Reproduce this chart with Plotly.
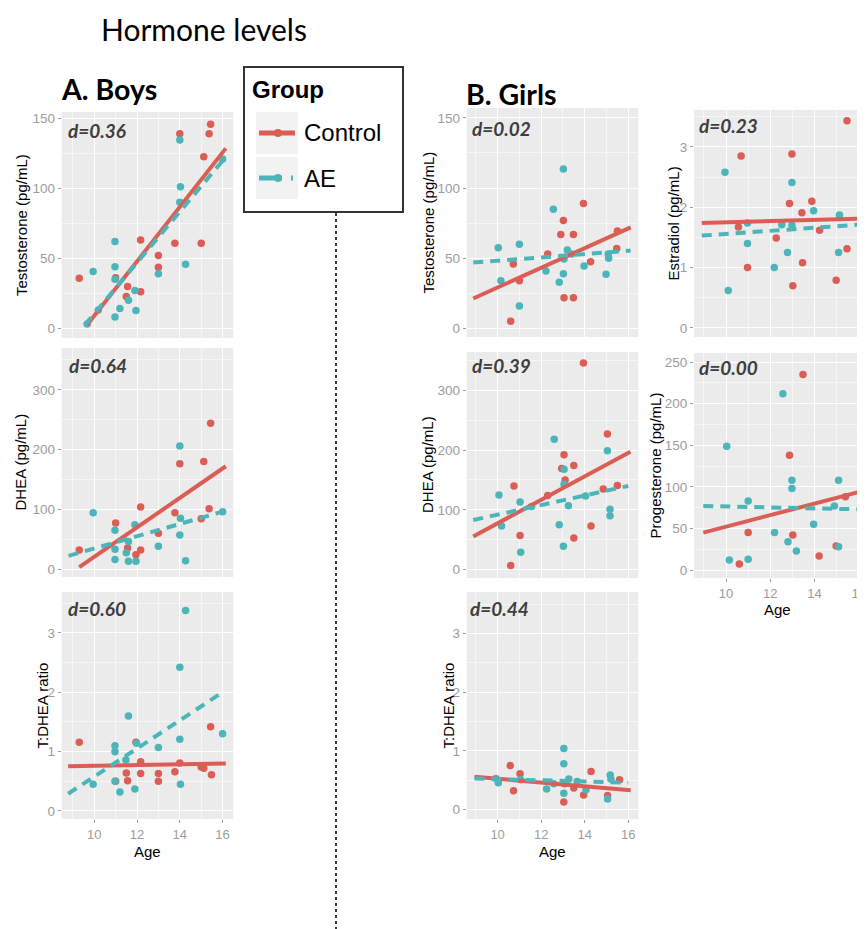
import plotly.graph_objects as go

# ---------------- DATA ----------------
# Boys - Testosterone (pg/mL)
boys_T_ctrl_age = [9.3, 11.0, 11.5, 11.56, 12.17, 12.17, 13.0, 13.0, 13.77, 14.0, 15.0, 15.12, 15.37, 15.44]
boys_T_ctrl_val = [35.7, 36, 22.6, 29.8, 63, 26, 52, 43.6, 60.7, 139, 60.7, 122.6, 139, 145.7]
boys_T_ae_age = [9.67, 9.95, 10.19, 10.97, 10.97, 10.97, 10.97, 11.2, 11.6, 11.9, 11.95, 13.0, 14.0, 14.0, 14.03, 14.27, 16.0]
boys_T_ae_val = [3, 40.5, 13, 62, 44, 35, 8, 14, 20, 27, 12.6, 39, 134.5, 90, 101, 45.7, 121]
boys_T_ctrl_fit_age = [9.67, 16.15]
boys_T_ctrl_fit_val = [2.4, 128.5]
boys_T_ae_fit_age = [9.56, 16.1]
boys_T_ae_fit_val = [2.4, 121.5]

# Boys - DHEA (pg/mL)
boys_D_ctrl_age = [9.3, 11.0, 11.56, 11.95, 12.17, 12.17, 13.0, 13.77, 14.0, 15.0, 15.12, 15.37, 15.44]
boys_D_ctrl_val = [32, 77, 35, 24, 104, 32, 60, 94, 176, 84, 180, 101, 244]
boys_D_ae_age = [9.95, 10.97, 10.97, 10.97, 11.5, 11.6, 11.6, 11.9, 11.95, 13.0, 14.0, 14.0, 14.03, 14.27, 16.0]
boys_D_ae_val = [94, 65, 33, 16, 27, 46, 13, 74, 13, 38, 206, 57, 85, 14, 96]
boys_D_ctrl_fit_age = [9.3, 16.15]
boys_D_ctrl_fit_val = [3, 172]
boys_D_ae_fit_age = [8.8, 16.0]
boys_D_ae_fit_val = [22, 96]

# Boys - T:DHEA ratio
boys_R_ctrl_age = [9.3, 11.0, 11.5, 11.56, 11.95, 12.17, 12.17, 13.0, 13.0, 13.77, 14.0, 15.0, 15.12, 15.44, 15.48]
boys_R_ctrl_val = [1.16, 0.50, 0.64, 0.51, 1.16, 0.83, 0.63, 0.63, 0.50, 0.66, 0.81, 0.74, 0.72, 1.42, 0.61]
boys_R_ae_age = [9.95, 10.97, 10.97, 10.97, 11.2, 11.48, 11.6, 11.9, 11.98, 13.0, 14.0, 14.0, 14.03, 14.27, 16.0]
boys_R_ae_val = [0.45, 1.10, 1.0, 0.50, 0.32, 0.86, 1.60, 0.37, 1.14, 1.07, 2.42, 1.21, 0.45, 3.38, 1.30]
boys_R_ctrl_fit_age = [8.78, 16.15]
boys_R_ctrl_fit_val = [0.755, 0.80]
boys_R_ae_fit_age = [8.78, 16.0]
boys_R_ae_fit_val = [0.29, 2.0]

# Girls - Testosterone (pg/mL)
girls_T_ctrl_age = [10.6, 10.72, 11.0, 12.3, 12.9, 13.02, 13.05, 13.48, 13.48, 13.94, 14.27, 15.47, 15.5]
girls_T_ctrl_val = [5.2, 46, 34, 53, 67, 77, 22, 67, 22, 89, 47.6, 57, 69.5]
girls_T_ae_age = [10.03, 10.15, 11.0, 11.0, 12.22, 12.56, 12.83, 13.02, 13.02, 13.05, 13.2, 13.4, 13.97, 14.98, 15.08, 15.1]
girls_T_ae_val = [57.6, 34, 60, 16, 41, 85, 33, 113.5, 39, 49.5, 56, 53, 44.5, 38.6, 53, 50]
girls_T_ctrl_fit_age = [8.88, 16.11]
girls_T_ctrl_fit_val = [21.4, 72]
girls_T_ae_fit_age = [8.88, 16.11]
girls_T_ae_fit_val = [47, 55.5]

# Girls - DHEA (pg/mL)
girls_D_ctrl_age = [10.6, 10.75, 11.03, 12.3, 12.94, 13.05, 13.1, 13.5, 13.5, 13.94, 14.29, 14.85, 15.04, 15.5]
girls_D_ctrl_val = [6.7, 140, 57, 124, 169, 192, 150, 174, 53, 345.6, 73, 135, 227, 140.6]
girls_D_ae_age = [10.06, 10.18, 11.03, 11.06, 11.56, 12.6, 12.83, 13.02, 13.05, 13.05, 13.25, 14.04, 15.04, 15.16, 15.16]
girls_D_ae_val = [125, 73, 113, 29, 105.6, 218, 75, 39, 168, 143, 107, 123, 199, 101, 90]
girls_D_ctrl_fit_age = [8.88, 16.1]
girls_D_ctrl_fit_val = [55.6, 197]
girls_D_ae_fit_age = [8.88, 16.0]
girls_D_ae_fit_val = [83, 140]

# Girls - T:DHEA ratio
girls_R_ctrl_age = [10.58, 10.73, 11.03, 13.04, 13.07, 13.5, 13.95, 14.29, 15.05, 15.6]
girls_R_ctrl_val = [0.75, 0.32, 0.61, 0.13, 0.44, 0.37, 0.25, 0.65, 0.24, 0.51]
girls_R_ae_age = [9.92, 10.03, 11.06, 12.25, 12.58, 13.04, 13.04, 13.04, 13.27, 13.65, 14.06, 15.05, 15.17, 15.2]
girls_R_ae_val = [0.53, 0.46, 0.51, 0.35, 0.44, 1.04, 0.78, 0.28, 0.52, 0.48, 0.34, 0.18, 0.59, 0.52]
girls_R_ctrl_fit_age = [8.94, 16.11]
girls_R_ctrl_fit_val = [0.56, 0.33]
girls_R_ae_fit_age = [8.94, 16.0]
girls_R_ae_fit_val = [0.53, 0.46]

# Girls - Estradiol (pg/mL)
girls_E_ctrl_age = [10.56, 10.68, 10.97, 12.27, 12.87, 12.98, 13.02, 13.43, 13.46, 13.88, 14.23, 14.98, 15.47, 15.47]
girls_E_ctrl_val = [1.67, 2.85, 1.0, 1.49, 2.06, 2.88, 0.70, 1.91, 1.08, 2.10, 1.62, 0.79, 1.31, 3.43]
girls_E_ae_age = [9.95, 10.1, 10.97, 10.97, 12.18, 12.52, 12.78, 12.98, 12.98, 13.96, 15.09, 15.13]
girls_E_ae_val = [2.58, 0.62, 1.40, 1.74, 1.0, 1.71, 1.25, 2.41, 1.70, 1.94, 1.25, 1.87]
girls_E_ctrl_fit_age = [8.9, 16.07]
girls_E_ctrl_fit_val = [1.74, 1.81]
girls_E_ae_fit_age = [8.9, 16.0]
girls_E_ae_fit_val = [1.53, 1.71]

# Girls - Progesterone (pg/mL)
girls_P_ctrl_age = [10.6, 11.0, 12.87, 13.02, 13.48, 14.21, 14.98, 15.4]
girls_P_ctrl_val = [7.2, 45, 138, 42, 235, 17, 29, 88]
girls_P_ae_age = [10.03, 10.15, 11.0, 11.0, 12.19, 12.57, 12.8, 12.98, 12.98, 13.18, 13.96, 14.9, 15.09, 15.09]
girls_P_ae_val = [149, 12, 83, 13, 45, 212, 34, 108, 98, 23, 55, 77, 108, 28]
girls_P_ctrl_fit_age = [8.97, 16.04]
girls_P_ctrl_fit_val = [45, 94]
girls_P_ae_fit_age = [8.97, 16.0]
girls_P_ae_fit_val = [77, 73]

effect_sizes = ["d=0.36", "d=0.64", "d=0.60", "d=0.02", "d=0.39", "d=0.44", "d=0.23", "d=0.00"]
y_titles = ["Testosterone (pg/mL)", "DHEA (pg/mL)", "T:DHEA ratio",
            "Testosterone (pg/mL)", "DHEA (pg/mL)", "T:DHEA ratio",
            "Estradiol (pg/mL)", "Progesterone (pg/mL)"]
group_names = ["Control", "AE"]

# ---------------- STYLE / LAYOUT ----------------
W, H = 865, 929
OFF = 8  # page body margin of the browser
def px(x):
    return (x - OFF) / W
def py(y):
    return 1 - (y - OFF) / H

RED = "#DA5E55"
TEAL = "#4CB5B9"
PANEL_BG = "#EBEBEB"
TICK_COL = "#9C9C9C"

panel_data = [
    (boys_T_ctrl_age, boys_T_ctrl_val, boys_T_ae_age, boys_T_ae_val,
     boys_T_ctrl_fit_age, boys_T_ctrl_fit_val, boys_T_ae_fit_age, boys_T_ae_fit_val),
    (boys_D_ctrl_age, boys_D_ctrl_val, boys_D_ae_age, boys_D_ae_val,
     boys_D_ctrl_fit_age, boys_D_ctrl_fit_val, boys_D_ae_fit_age, boys_D_ae_fit_val),
    (boys_R_ctrl_age, boys_R_ctrl_val, boys_R_ae_age, boys_R_ae_val,
     boys_R_ctrl_fit_age, boys_R_ctrl_fit_val, boys_R_ae_fit_age, boys_R_ae_fit_val),
    (girls_T_ctrl_age, girls_T_ctrl_val, girls_T_ae_age, girls_T_ae_val,
     girls_T_ctrl_fit_age, girls_T_ctrl_fit_val, girls_T_ae_fit_age, girls_T_ae_fit_val),
    (girls_D_ctrl_age, girls_D_ctrl_val, girls_D_ae_age, girls_D_ae_val,
     girls_D_ctrl_fit_age, girls_D_ctrl_fit_val, girls_D_ae_fit_age, girls_D_ae_fit_val),
    (girls_R_ctrl_age, girls_R_ctrl_val, girls_R_ae_age, girls_R_ae_val,
     girls_R_ctrl_fit_age, girls_R_ctrl_fit_val, girls_R_ae_fit_age, girls_R_ae_fit_val),
    (girls_E_ctrl_age, girls_E_ctrl_val, girls_E_ae_age, girls_E_ae_val,
     girls_E_ctrl_fit_age, girls_E_ctrl_fit_val, girls_E_ae_fit_age, girls_E_ae_fit_val),
    (girls_P_ctrl_age, girls_P_ctrl_val, girls_P_ae_age, girls_P_ae_val,
     girls_P_ctrl_fit_age, girls_P_ctrl_fit_val, girls_P_ae_fit_age, girls_P_ae_fit_val),
]

geom = [
    dict(box=(61.7, 233.3, 112, 338), xr=[8.48, 16.5], yr=[-7, 154.5], dt=50, xl=False, yt=22, d=(66, 130)),
    dict(box=(61.7, 233.3, 348, 577), xr=[8.48, 16.5], yr=[-13.4, 370], dt=100, xl=False, yt=20, d=(67, 366)),
    dict(box=(61.7, 233.3, 592, 819), xr=[8.48, 16.5], yr=[-0.135, 3.69], dt=1, xl=True, yt=42, d=(66, 608), age=851),
    dict(box=(466.7, 638.3, 108, 337), xr=[8.58, 16.46], yr=[-6, 157], dt=50, xl=False, yt=428, d=(470, 128)),
    dict(box=(466.7, 638.3, 352, 578), xr=[8.58, 16.46], yr=[-14, 364], dt=100, xl=False, yt=427, d=(470, 366)),
    dict(box=(466.7, 638.3, 592, 819), xr=[8.58, 16.46], yr=[-0.16, 3.71], dt=1, xl=True, yt=448, d=(468, 608), age=851),
    dict(box=(694, 868, 110, 337), xr=[8.55, 16.42], yr=[-0.15, 3.61], dt=1, xl=False, yt=673, d=(697, 125)),
    dict(box=(694, 868, 353, 578), xr=[8.55, 16.42], yr=[-9.6, 261], dt=50, xl=True, yt=655, d=(697, 368), age=609),
]

fig = go.Figure()
annotations = []
shapes = []

for i, (g, dat) in enumerate(zip(geom, panel_data), start=1):
    ca, cv, aa, av, cfa, cfv, afa, afv = dat
    xa = "x" if i == 1 else f"x{i}"
    ya = "y" if i == 1 else f"y{i}"
    fig.add_trace(go.Scatter(x=ca, y=cv, mode="markers", xaxis=xa, yaxis=ya,
                             marker=dict(color=RED, size=7.5), showlegend=False))
    fig.add_trace(go.Scatter(x=aa, y=av, mode="markers", xaxis=xa, yaxis=ya,
                             marker=dict(color=TEAL, size=7.5), showlegend=False))
    fig.add_trace(go.Scatter(x=cfa, y=cfv, mode="lines", xaxis=xa, yaxis=ya,
                             line=dict(color=RED, width=4), showlegend=False))
    fig.add_trace(go.Scatter(x=afa, y=afv, mode="lines", xaxis=xa, yaxis=ya,
                             line=dict(color=TEAL, width=4, dash="10px,7px"), showlegend=False))

    l, r, t, b = g["box"]
    xkey = "xaxis" if i == 1 else f"xaxis{i}"
    ykey = "yaxis" if i == 1 else f"yaxis{i}"
    fig.layout[xkey] = dict(
        domain=[px(l), min(px(r), 1.0)], range=g["xr"], anchor=ya,
        tick0=10, dtick=2, showticklabels=g["xl"],
        ticks="outside" if g["xl"] else "", ticklen=3, tickcolor=TICK_COL,
        tickfont=dict(family="Liberation Sans", size=13, color=TICK_COL),
        showgrid=True, gridcolor="white", gridwidth=1.3, zeroline=False, showline=False,
        minor=dict(dtick=1, showgrid=True, gridcolor="#F6F6F6", gridwidth=0.6),
    )
    fig.layout[ykey] = dict(
        domain=[py(b), py(t)], range=g["yr"], anchor=xa,
        tick0=0, dtick=g["dt"], ticks="outside", ticklen=3, tickcolor=TICK_COL,
        tickfont=dict(family="Liberation Sans", size=13.5, color=TICK_COL),
        showgrid=True, gridcolor="white", gridwidth=1.3, zeroline=False, showline=False,
        minor=dict(dtick=g["dt"] / 2, showgrid=True, gridcolor="#F6F6F6", gridwidth=0.6),
    )
    annotations.append(dict(x=px(g["d"][0]), y=py(g["d"][1]), xref="paper", yref="paper",
                            text=effect_sizes[i - 1], showarrow=False, xanchor="left", yanchor="middle",
                            font=dict(family="Lato", size=19, color="#3E3E3E", style="italic", weight="bold")))
    annotations.append(dict(x=px(g["yt"]), y=py((t + b) / 2), xref="paper", yref="paper",
                            text=y_titles[i - 1], textangle=-90, showarrow=False,
                            xanchor="center", yanchor="middle",
                            font=dict(family="Liberation Sans", size=15, color="black")))
    if "age" in g:
        xc = (l + r) / 2 if i != 8 else 777
        annotations.append(dict(x=px(xc), y=py(g["age"]),
                                xref="paper", yref="paper", text="Age", showarrow=False,
                                xanchor="center", yanchor="middle",
                                font=dict(family="Liberation Sans", size=15, color="black")))

# Titles
annotations.append(dict(x=px(99), y=py(9), xref="paper", yref="paper", text="Hormone levels",
                        showarrow=False, xanchor="left", yanchor="top",
                        font=dict(family="Lato", size=30, color="black")))
annotations.append(dict(x=px(59), y=py(89), xref="paper", yref="paper", text="<b>A. Boys</b>",
                        showarrow=False, xanchor="left", yanchor="middle",
                        font=dict(family="Lato", size=28.5, color="black")))
annotations.append(dict(x=px(464), y=py(94), xref="paper", yref="paper", text="<b>B. Girls</b>",
                        showarrow=False, xanchor="left", yanchor="middle",
                        font=dict(family="Lato", size=28.5, color="black")))

# Legend box
shapes.append(dict(type="rect", xref="paper", yref="paper", x0=px(244), x1=px(403), y0=py(212), y1=py(67),
                   line=dict(color="#333333", width=2), fillcolor="white", layer="above"))
annotations.append(dict(x=px(250), y=py(89), xref="paper", yref="paper", text="<b>Group</b>",
                        showarrow=False, xanchor="left", yanchor="middle",
                        font=dict(family="Liberation Sans", size=24, color="black")))
key_rows = [(133, RED, None), (178, TEAL, "dash")]
for (yc, col, dash), name in zip(key_rows, group_names):
    shapes.append(dict(type="rect", xref="paper", yref="paper", x0=px(256), x1=px(298),
                       y0=py(yc + 21), y1=py(yc - 21), line=dict(width=0), fillcolor="#F2F2F2", layer="above"))
    if dash is None:
        shapes.append(dict(type="line", xref="paper", yref="paper", x0=px(259), x1=px(295), y0=py(yc), y1=py(yc),
                           line=dict(color=col, width=5), layer="above"))
    else:
        shapes.append(dict(type="line", xref="paper", yref="paper", x0=px(259), x1=px(282), y0=py(yc), y1=py(yc),
                           line=dict(color=col, width=5), layer="above"))
        shapes.append(dict(type="line", xref="paper", yref="paper", x0=px(291), x1=px(293), y0=py(yc), y1=py(yc),
                           line=dict(color=col, width=5), layer="above"))
    shapes.append(dict(type="circle", xref="paper", yref="paper", x0=px(274), x1=px(282),
                       y0=py(yc + 4), y1=py(yc - 4), line=dict(width=0), fillcolor=col, layer="above"))
    annotations.append(dict(x=px(302), y=py(yc), xref="paper", yref="paper", text=name,
                            showarrow=False, xanchor="left", yanchor="middle",
                            font=dict(family="Liberation Sans", size=24, color="black")))

# vertical dotted separator
shapes.append(dict(type="line", xref="paper", yref="paper", x0=px(336), x1=px(336), y0=py(213), y1=py(935),
                   line=dict(color="#3A3A3A", width=2, dash="dot")))

fig.update_layout(
    width=W, height=H, margin=dict(l=0, r=0, t=0, b=0),
    paper_bgcolor="white", plot_bgcolor=PANEL_BG,
    annotations=annotations, shapes=shapes, showlegend=False,
)

fig.write_html("out.html")
